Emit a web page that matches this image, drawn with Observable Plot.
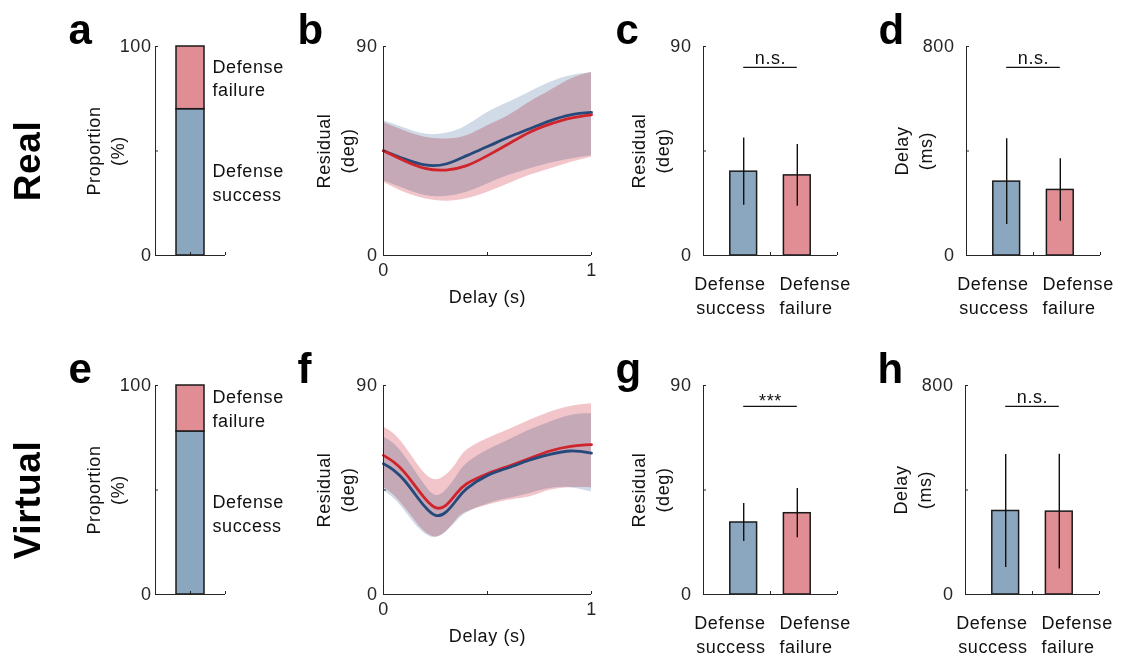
<!DOCTYPE html>
<html><head><meta charset="utf-8">
<script src="https://cdn.jsdelivr.net/npm/d3@7"></script>
<script src="https://cdn.jsdelivr.net/npm/@observablehq/plot@0.6"></script>
<style>
html,body{margin:0;padding:0;background:#fff;}
#fig{position:relative;width:1142px;height:657px;overflow:hidden;background:#fff;}
#fig svg{position:absolute;overflow:visible;}
</style></head><body><div id="fig"></div>
<script>
// ---------- data ----------
const groups = ["Defense\nsuccess", "Defense\nfailure"];
const groupPos = [1, 2];
const groupColors = ["#8ba6bf", "#e08d93"];
const rowLabels = ["Real", "Virtual"];
const panelLetters = ["a", "b", "c", "d", "e", "f", "g", "h"];

// a, e: proportion of trials (%)
const successPct = [70, 78];

// b: Real, residual (deg) vs delay (s)
const bDelay = [0, 0.1, 0.2, 0.3, 0.4, 0.5, 0.6, 0.7, 0.8, 0.9, 1.0];
const bSuccessMean = [45.1, 41.6, 39.0, 39.4, 43.0, 46.9, 50.9, 54.5, 58.0, 60.6, 61.6];
const bSuccessHi   = [58.0, 54.9, 52.3, 52.6, 55.9, 61.6, 65.9, 70.2, 74.5, 77.4, 78.8];
const bSuccessLo   = [32.2, 28.7, 25.8, 25.4, 27.2, 30.8, 34.4, 37.3, 39.7, 41.6, 43.0];
const bFailureMean = [45.1, 40.8, 37.5, 36.8, 38.7, 43.0, 48.0, 53.0, 56.6, 59.2, 60.6];
const bFailureHi   = [57.3, 53.7, 50.9, 50.2, 51.6, 55.9, 60.2, 65.9, 70.9, 75.9, 78.8];
const bFailureLo   = [31.5, 27.2, 24.4, 23.4, 24.4, 27.2, 30.8, 34.4, 37.3, 40.1, 42.3];

// f: Virtual, residual (deg) vs delay (s)
const fDelay = [0, 0.05, 0.1, 0.15, 0.2, 0.25, 0.3, 0.35, 0.4, 0.5, 0.6, 0.7, 0.8, 0.9, 1.0];
const fSuccessMean = [56.3, 53.5, 49.2, 43.4, 37.7, 34.1, 35.5, 40.6, 45.6, 51.3, 54.6, 57.8, 60.3, 61.8, 60.9];
const fSuccessHi   = [67.8, 64.9, 59.9, 53.5, 47.0, 42.7, 44.9, 50.6, 56.3, 62.1, 66.4, 70.7, 74.2, 77.1, 77.8];
const fSuccessLo   = [44.9, 41.3, 36.3, 30.5, 26.2, 24.5, 26.9, 31.2, 35.1, 39.0, 41.3, 43.4, 45.6, 46.0, 44.1];
const fFailureMean = [59.9, 57.0, 52.7, 47.0, 41.3, 37.4, 38.4, 43.4, 47.7, 52.0, 55.2, 58.5, 61.8, 63.8, 64.5];
const fFailureHi   = [72.1, 69.2, 64.2, 57.8, 52.0, 49.4, 51.3, 56.3, 62.1, 67.1, 70.9, 74.9, 78.5, 81.0, 82.1];
const fFailureLo   = [46.3, 42.7, 37.7, 32.0, 26.9, 24.8, 26.9, 32.0, 35.5, 38.4, 40.6, 42.0, 44.9, 46.0, 46.0];

// c, g: residual (deg) mean and SD; d, h: delay (ms)
const cMean = [36.1, 34.5],  cSD = [14.5, 13.3];
const dMean = [282.8, 251.0], dSD = [163.7, 119.8];
const gMean = [31.0, 35.0],  gSD = [8.2, 10.6];
const hMean = [319.7, 317.2], hSD = [216.0, 219.8];
const sigLabels = ["n.s.", "n.s.", "***", "n.s."];
const residualSigLevel = 81, delaySigLevel = 720;

// axis ticks
const propTicks = [0, 50, 100], propTickLabels = ["0", "", "100"];
const residualTicks = [0, 45, 90], residualTickLabels = ["0", "", "90"];
const delayMsTicks = [0, 400, 800], delayMsTickLabels = ["0", "", "800"];
const timeTicks = [0, 0.5, 1], timeTickLabels = ["0", "", "1"];

// ---------- style ----------
const FONT = '"Liberation Sans", Arial, Helvetica, sans-serif';
const AX = "#262626";
const lineColors = ["#24497a", "#d0232b"];
const bandColors = ["#d0dbe7", "#f2c5ca"];
const fig = document.getElementById("fig");

function labelMap(ticks, labels) { const m = new Map(ticks.map((t, k) => [t, labels[k]])); return d => m.get(d) ?? ""; }

function axesMarks({xDomain, xTicks, xTickLabels, yTicks, yTickLabels, yPad}) {
  const m = [
    Plot.ruleX([xDomain[0]], {stroke: AX, strokeWidth: 1}),
    Plot.ruleY([0], {stroke: AX, strokeWidth: 1}),
    Plot.axisY({ticks: yTicks, tickSize: 3, dx: 3, tickFormat: () => "", stroke: AX, label: null}),
    Plot.axisY({ticks: yTicks, tickSize: 0, tickPadding: yPad, tickFormat: labelMap(yTicks, yTickLabels), fill: AX, label: null}),
    Plot.axisX({ticks: xTicks, tickSize: 3, dy: -3, tickFormat: () => "", stroke: AX, label: null})
  ];
  if (xTickLabels) m.push(Plot.axisX({ticks: xTicks, tickSize: 0, tickPadding: 8, tickFormat: labelMap(xTicks, xTickLabels), fill: AX, label: null}));
  return m;
}

function letterMark(letter, dx, dy) {
  return Plot.text([letter], {frameAnchor: "top-left", textAnchor: "start", lineAnchor: "bottom", dx, dy, fontSize: 42, fontWeight: "bold", fill: "#000", letterSpacing: "0px"});
}
function yLabelMark(text, dx) {
  return Plot.text([text], {frameAnchor: "left", textAnchor: "middle", lineAnchor: "middle", rotate: -90, dx, lineHeight: 1.33, fill: "#111"});
}

function place(box, frame, xDomain, yDomain, marks) {
  const svg = Plot.plot({
    width: box.x1 - box.x0, height: box.y1 - box.y0,
    marginLeft: frame.l - box.x0, marginRight: box.x1 - frame.r,
    marginTop: frame.t - box.y0, marginBottom: box.y1 - frame.b,
    x: {domain: xDomain, axis: null},
    y: {domain: yDomain, axis: null},
    style: {background: "transparent", fontFamily: FONT, fontSize: "18px", color: "#111", letterSpacing: "0.6px", overflow: "visible"},
    marks
  });
  svg.style.left = box.x0 + "px";
  svg.style.top = box.y0 + "px";
  fig.append(svg);
}

const rows = [{y0: 0, y1: 330, t: 46, b: 255}, {y0: 330, y1: 657, t: 385, b: 594}];

// ---------- proportion panels (a, e) ----------
function propPanel(r) {
  const row = rows[r];
  const xDomain = [0.5, 1.5];
  const pct = [successPct[r], 100 - successPct[r]];
  let cum = 0;
  const segs = pct.map((v, k) => { const s = {lo: cum, hi: cum + v, mid: cum + v / 2, label: groups[k], color: groupColors[k]}; cum += v; return s; });
  place({x0: 0, x1: 300, y0: row.y0, y1: row.y1}, {l: 155, r: 225, t: row.t, b: row.b}, xDomain, [0, 100], [
    Plot.rectY(segs, {x1: 0.8, x2: 1.2, y1: "lo", y2: "hi", fill: d => d.color, stroke: "#1a1a1a", strokeWidth: 1.5}),
    ...axesMarks({xDomain, xTicks: [1, 1.5], yTicks: propTicks, yTickLabels: propTickLabels, yPad: 4}),
    Plot.text(segs, {x: 1.2, y: "mid", text: "label", textAnchor: "start", dx: 8, dy: -1, lineHeight: 1.33, fill: "#111"}),
    yLabelMark("Proportion\n(%)", -51),
    Plot.text([rowLabels[r]], {frameAnchor: "left", textAnchor: "middle", lineAnchor: "middle", rotate: -90, dx: -127, dy: 10, fontSize: 37, fontWeight: "bold", fill: "#000", letterSpacing: "0px"}),
    letterMark(panelLetters[r * 4], -87, -3)
  ]);
}

// ---------- time-course panels (b, f) ----------
function linePanel(r, xs, sM, sLo, sHi, fM, fLo, fHi, blueOnTop) {
  const row = rows[r];
  const xDomain = [0, 1];
  const S = xs.map((x, k) => ({x, m: sM[k], lo: sLo[k], hi: sHi[k]}));
  const F = xs.map((x, k) => ({x, m: fM[k], lo: fLo[k], hi: fHi[k]}));
  const blueLine = Plot.line(S, {x: "x", y: "m", stroke: lineColors[0], strokeWidth: 2.8, curve: "natural"});
  const redLine = Plot.line(F, {x: "x", y: "m", stroke: lineColors[1], strokeWidth: 2.8, curve: "natural"});
  place({x0: 280, x1: 620, y0: row.y0, y1: row.y1}, {l: 383, r: 591, t: row.t, b: row.b}, xDomain, [0, 90], [
    Plot.areaY(S, {x: "x", y1: "lo", y2: "hi", fill: bandColors[0], curve: "natural", mixBlendMode: "multiply"}),
    Plot.areaY(F, {x: "x", y1: "lo", y2: "hi", fill: bandColors[1], curve: "natural", mixBlendMode: "multiply"}),
    ...(blueOnTop ? [redLine, blueLine] : [blueLine, redLine]),
    ...axesMarks({xDomain, xTicks: timeTicks, xTickLabels: timeTickLabels, yTicks: residualTicks, yTickLabels: residualTickLabels, yPad: 6}),
    Plot.text(["Delay (s)"], {frameAnchor: "bottom", textAnchor: "middle", lineAnchor: "middle", dy: 42, fill: "#111"}),
    yLabelMark("Residual\n(deg)", -49),
    letterMark(panelLetters[r * 4 + 1], -86, -3)
  ]);
}

// ---------- bar panels (c, d, g, h) ----------
function barPanel(r, c, mean, sd, yMax, yTicks, yTickLabels, sigLevel, sigLabel, yLabel, xBox, frameL) {
  const row = rows[r];
  const xDomain = [0.25, 2.75];
  const bars = groupPos.map((p, k) => ({i: p, mean: mean[k], sd: sd[k], color: groupColors[k]}));
  const mid = d3.mean(groupPos);
  const sig = [{x1: groupPos[0], x2: groupPos[1], y: sigLevel, label: sigLabel}];
  place({x0: xBox[0], x1: xBox[1], y0: row.y0, y1: row.y1}, {l: frameL, r: frameL + 134, t: row.t, b: row.b}, xDomain, [0, yMax], [
    Plot.rectY(bars, {x1: d => d.i - 0.25, x2: d => d.i + 0.25, y1: 0, y2: "mean", fill: d => d.color, stroke: "#1a1a1a", strokeWidth: 1.5}),
    Plot.ruleX(bars, {x: "i", y1: d => d.mean - d.sd, y2: d => d.mean + d.sd, stroke: "#111", strokeWidth: 1.4}),
    ...axesMarks({xDomain, xTicks: [mid, xDomain[1]], yTicks, yTickLabels, yPad: 12}),
    Plot.ruleY(sig, {x1: "x1", x2: "x2", y: "y", stroke: "#111", strokeWidth: 1.3}),
    Plot.text(sig, {x: d => (d.x1 + d.x2) / 2, y: "y", text: "label", lineAnchor: "bottom", dy: sigLabel === "***" ? 1 : -3, fill: "#111"}),
    Plot.text([groups[0]], {x: mid, frameAnchor: "bottom", textAnchor: "end", lineAnchor: "top", dx: -5, dy: 18, lineHeight: 1.33, fill: "#111"}),
    Plot.text([groups[1]], {x: mid, frameAnchor: "bottom", textAnchor: "start", lineAnchor: "top", dx: 9, dy: 18, lineHeight: 1.33, fill: "#111"}),
    yLabelMark(yLabel, -54),
    letterMark(panelLetters[r * 4 + c], -88, -3)
  ]);
}

propPanel(0);
propPanel(1);
linePanel(0, bDelay, bSuccessMean, bSuccessLo, bSuccessHi, bFailureMean, bFailureLo, bFailureHi, false);
linePanel(1, fDelay, fSuccessMean, fSuccessLo, fSuccessHi, fFailureMean, fFailureLo, fFailureHi, true);
barPanel(0, 2, cMean, cSD, 90, residualTicks, residualTickLabels, residualSigLevel, sigLabels[0], "Residual\n(deg)", [600, 870], 703);
barPanel(0, 3, dMean, dSD, 800, delayMsTicks, delayMsTickLabels, delaySigLevel, sigLabels[1], "Delay\n(ms)", [860, 1142], 966);
barPanel(1, 2, gMean, gSD, 90, residualTicks, residualTickLabels, residualSigLevel, sigLabels[2], "Residual\n(deg)", [600, 870], 703);
barPanel(1, 3, hMean, hSD, 800, delayMsTicks, delayMsTickLabels, delaySigLevel, sigLabels[3], "Delay\n(ms)", [860, 1142], 965);
</script></body></html>
